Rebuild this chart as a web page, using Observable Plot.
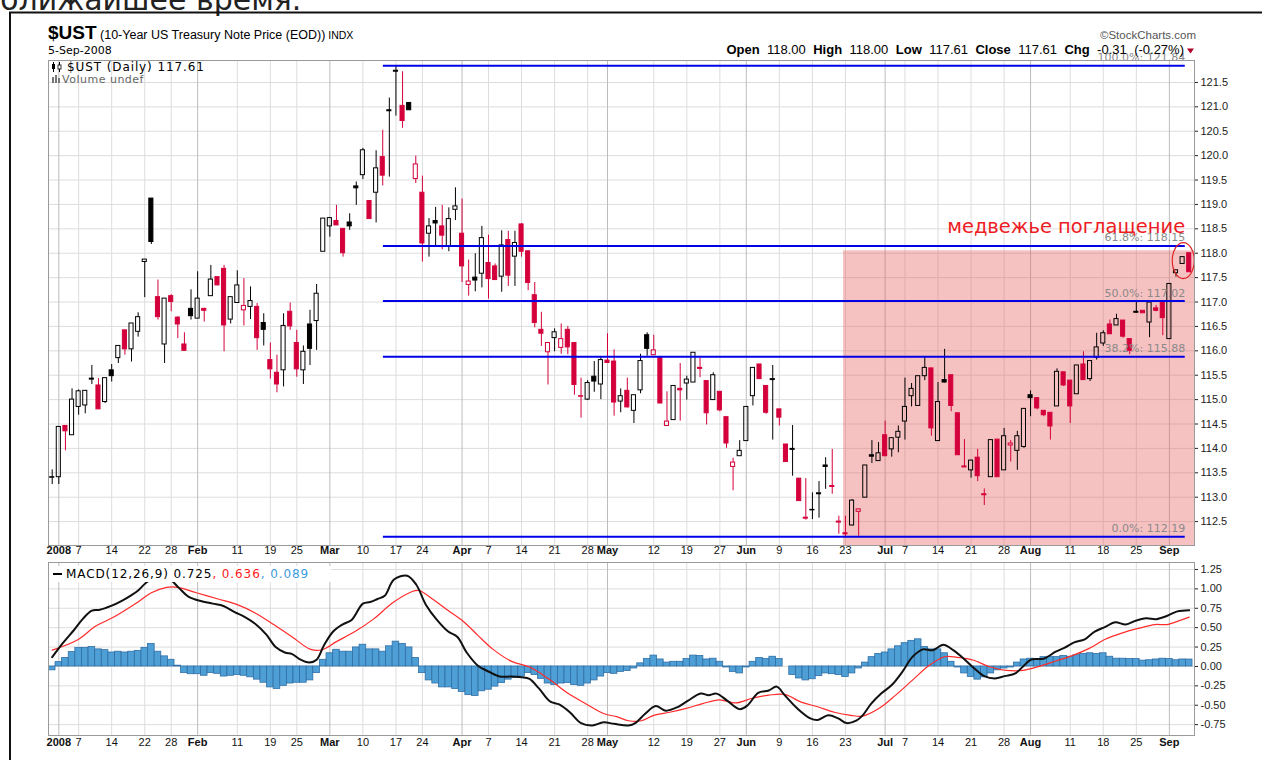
<!DOCTYPE html>
<html><head><meta charset="utf-8">
<script src="https://cdn.jsdelivr.net/npm/d3@7"></script>
<script src="https://cdn.jsdelivr.net/npm/@observablehq/plot@0.6"></script>
<style>
html,body{margin:0;padding:0;background:#fff}
#wrap{position:relative;width:1262px;height:760px;overflow:hidden;background:#fff}
#wrap > *{position:absolute;left:0}
#main{top:0}
#macd{top:560px}
#over{top:0;pointer-events:none}
</style></head><body>
<div id="wrap"><div id="main"></div><div id="macd"></div><svg id="over" width="1262" height="760"></svg></div>
<script>
// ---------- DATA (index 0 = 31-Dec-2007 ... 172 = 5-Sep-2008) ----------
const open = [113.41,113.41,114.46,114.27,114.85,114.88,115.43,115.29,114.95,115.60,
115.85,116.42,116.03,116.39,117.82,119.12,117.10,116.13,117.12,116.68,
116.13,116.86,116.66,116.86,117.12,117.51,117.68,116.64,116.98,116.83,
116.90,116.90,116.57,115.81,115.55,115.60,116.80,116.16,115.60,116.54,
116.61,118.03,118.55,118.66,118.50,118.63,119.37,119.60,119.07,119.24,
119.97,120.93,121.74,121.02,121.08,119.52,119.24,118.40,118.66,118.55,
118.14,118.89,118.40,117.35,117.50,117.58,117.80,117.73,117.52,118.27,
117.93,118.59,118.04,117.14,116.43,115.97,116.26,116.06,116.43,116.16,
115.07,115.00,115.47,115.31,115.80,115.78,114.96,115.18,114.77,115.19,
116.32,115.91,115.85,114.46,114.58,115.22,115.33,115.35,115.65,115.38,
114.99,115.16,114.64,113.62,113.84,114.15,115.07,115.72,115.28,115.42,
114.80,114.08,113.99,113.38,112.58,112.74,113.08,113.65,113.23,112.50,
112.26,112.42,112.70,112.99,113.86,113.74,114.27,113.98,114.22,114.55,
115.07,114.87,115.48,115.64,114.15,115.40,115.50,114.72,113.63,113.55,
113.81,113.06,113.41,114.18,113.55,114.06,113.95,114.03,115.09,115.03,
114.77,114.73,114.86,115.56,115.39,115.11,115.72,115.42,115.86,116.15,
116.54,116.52,116.62,116.24,116.80,116.82,116.58,116.87,117.00,116.24,
117.59,117.78,118.00];
const high = [113.56,114.44,114.46,115.22,115.20,115.17,115.70,115.43,115.44,115.72,
116.10,116.42,116.56,116.78,117.87,119.12,117.45,117.07,117.15,116.70,
116.37,117.25,117.62,116.87,117.75,117.51,117.75,117.10,117.64,117.48,
117.31,116.97,116.76,116.16,115.91,116.76,116.98,116.42,116.10,116.83,
117.36,118.71,118.73,118.98,118.50,118.81,119.46,120.15,119.07,120.10,
120.52,121.18,121.84,121.72,121.08,119.99,119.58,118.71,118.94,118.98,
118.93,119.34,119.11,117.86,117.99,118.55,118.37,117.78,118.46,118.45,
118.45,118.61,118.04,117.40,116.79,116.17,116.45,116.55,116.50,116.17,
115.44,115.39,115.78,115.87,116.35,116.02,115.22,115.44,115.09,115.93,
116.37,116.32,115.86,115.16,115.28,115.74,115.48,115.96,115.85,115.38,
115.55,115.16,114.64,113.80,114.16,114.85,115.65,115.72,115.28,115.70,
114.80,114.08,114.47,113.38,113.38,113.09,113.32,113.81,113.98,112.61,
112.61,112.95,112.76,113.65,114.16,114.12,114.56,114.21,114.46,115.44,
115.33,115.48,115.86,115.64,115.35,116.03,115.50,114.72,114.18,113.76,
113.98,113.17,114.17,114.18,114.41,114.16,114.35,114.81,115.18,115.03,
114.77,114.73,115.63,115.56,115.39,115.70,115.98,115.79,116.36,116.41,
116.63,116.75,116.62,116.24,117.01,116.82,116.99,116.93,117.00,117.37,
117.65,117.93,118.00];
const low = [113.26,113.26,113.95,114.27,114.68,114.71,115.31,114.80,114.92,115.36,
115.74,115.91,115.77,116.28,117.09,118.18,116.63,115.74,116.80,116.25,
116.00,116.63,116.66,116.59,117.12,117.34,115.98,116.55,116.98,116.51,
116.64,116.01,116.10,115.42,115.14,115.26,116.42,115.46,115.31,115.70,
116.01,118.03,118.33,118.57,117.92,118.47,118.98,119.51,118.70,118.62,
119.38,119.56,120.81,120.56,120.93,119.43,117.82,117.92,118.12,118.07,
118.03,118.67,117.40,117.12,117.21,117.29,117.06,117.45,117.20,117.32,
117.32,117.92,117.23,116.47,116.09,115.30,115.98,115.93,115.92,115.09,
114.62,114.98,115.15,115.00,115.75,114.66,114.73,114.83,114.51,115.12,
115.89,115.91,114.92,114.46,114.58,114.56,114.99,115.35,115.45,114.48,
114.99,114.75,114.00,113.13,113.84,114.15,114.87,115.42,114.70,114.17,
114.46,113.72,113.43,112.92,112.53,112.54,112.57,113.16,113.06,112.24,
112.19,112.41,112.20,112.99,113.69,113.74,113.84,113.82,113.91,114.17,
114.85,114.87,115.39,114.25,114.15,115.34,114.75,113.86,113.61,113.39,
113.32,112.83,113.41,113.41,113.55,113.72,113.55,114.00,114.65,114.79,
114.65,114.17,114.86,115.27,114.51,115.11,115.40,115.37,115.81,116.09,
116.34,116.52,116.26,115.92,116.77,116.77,116.27,116.80,116.31,116.24,
117.51,117.78,117.61];
const close = [113.40,114.44,114.35,115.00,115.17,115.18,115.41,114.80,115.44,115.48,
116.10,116.03,116.56,116.69,117.87,118.23,116.69,117.07,117.00,116.54,
116.00,116.71,117.07,116.82,117.46,117.34,116.52,117.10,117.34,116.92,
117.02,116.26,116.43,115.62,115.31,116.51,116.50,115.62,115.98,116.04,
117.17,118.71,118.72,118.57,118.00,118.55,119.33,120.11,118.70,119.74,
119.59,120.91,121.72,120.71,120.93,119.82,118.20,118.55,118.61,118.36,
118.70,118.96,117.73,117.42,117.44,118.31,117.47,117.45,118.16,117.54,
118.21,118.03,117.39,116.57,116.35,116.16,116.38,116.24,116.07,115.30,
115.06,115.34,115.37,115.81,115.75,114.94,115.07,114.84,115.09,115.79,
116.04,116.01,114.92,114.55,115.28,115.19,115.41,115.96,115.63,114.72,
115.50,114.78,114.10,113.71,113.95,114.85,115.65,115.42,114.73,115.40,
114.63,113.72,113.97,112.92,112.56,112.73,113.06,113.62,113.21,112.48,
112.24,112.93,112.75,113.65,113.83,113.90,113.84,114.21,114.34,114.85,
115.22,115.48,115.65,114.41,114.95,115.35,114.87,113.86,113.61,113.75,
113.43,113.04,114.17,113.41,114.25,114.10,114.25,114.81,115.03,114.82,
114.68,114.45,115.57,115.29,114.86,115.70,115.40,115.79,116.07,116.36,
116.34,116.65,116.29,116.00,116.78,116.77,116.99,116.82,116.67,117.37,
117.65,117.92,117.61];

// MACD histogram, one bar per day
const hist = [-0.05,0.056,0.11,0.185,0.24,0.24,0.25,0.22,0.21,0.18,
0.19,0.18,0.19,0.20,0.24,0.29,0.19,0.13,0.086,0.01,
-0.086,-0.10,-0.10,-0.12,-0.086,-0.095,-0.13,-0.12,-0.11,-0.12,
-0.14,-0.17,-0.21,-0.27,-0.29,-0.25,-0.22,-0.21,-0.21,-0.18,
-0.086,0.086,0.17,0.215,0.19,0.19,0.245,0.28,0.22,0.22,
0.19,0.26,0.32,0.29,0.245,0.11,-0.086,-0.18,-0.22,-0.27,
-0.27,-0.29,-0.33,-0.37,-0.38,-0.32,-0.30,-0.26,-0.215,-0.17,
-0.15,-0.13,-0.086,-0.11,-0.16,-0.22,-0.24,-0.22,-0.215,-0.24,
-0.25,-0.22,-0.18,-0.13,-0.086,-0.095,
-0.07,-0.06,-0.026,0.04,0.095,0.14,0.09,0.05,0.06,0.06,
0.095,0.14,0.135,0.09,0.10,0.06,-0.013,-0.07,-0.09,-0.013,
0.06,0.11,0.095,0.125,0.095,0.0,-0.11,-0.155,-0.18,-0.165,
-0.125,-0.09,-0.10,-0.11,-0.135,-0.09,-0.026,0.05,0.12,0.16,
0.18,0.22,0.26,0.30,0.33,0.35,0.25,0.22,0.22,0.17,
0.06,-0.013,-0.09,-0.135,-0.17,-0.14,-0.09,-0.05,-0.026,-0.013,
0.05,0.09,0.10,0.095,0.12,0.125,0.12,0.135,0.125,0.145,
0.16,0.17,0.16,0.17,0.125,0.10,0.10,0.095,0.095,0.075,
0.08,0.09,0.10,0.095,0.08,0.09,0.089];

// MACD line, read at points along the day index
const macdX = [0,1.6,3.3,4.7,6,7.2,8.9,10.6,12,13,14.2,15.5,16.8,17.9,19.2,20.6,22.6,24.3,25.9,27.6,29.1,30.7,32.4,33.8,35.2,36.3,37.4,38.9,40,41.1,42.5,43.9,45.3,47,48.1,49.2,50.3,51.7,53.7,55.1,56.5,58.2,59.9,61.3,62.7,64.4,66,67.7,69.4,71,72.2,73.6,75.3,76.7,78.3,80,81.7,83.4,85,87.2,88.2,89.7,91.3,92.8,94.7,96.2,98.1,99.3,100.5,102.1,104,105.2,106.8,108.4,109.6,110.8,112.7,114.6,115.8,117.4,118.9,120.2,121.7,122.6,123.9,125.4,127,128.6,130.1,131.7,133.2,134.8,136.3,137.9,139.5,141,142.6,144.1,145.7,146.9,148.1,150,151.8,153.1,154.6,156.2,157.7,159.3,160.8,162.4,163.9,165.5,167,168.6,170.2,172];
const macdY = [0.12,0.30,0.47,0.62,0.72,0.73,0.78,0.85,0.92,0.98,1.08,1.15,1.17,1.12,1.01,0.90,0.84,0.81,0.78,0.70,0.64,0.55,0.41,0.25,0.18,0.16,0.095,0.05,0.086,0.27,0.45,0.54,0.60,0.81,0.83,0.87,0.91,1.12,1.17,1.05,0.80,0.60,0.45,0.38,0.18,0.01,-0.065,-0.13,-0.13,-0.14,-0.16,-0.28,-0.45,-0.49,-0.59,-0.73,-0.76,-0.72,-0.74,-0.76,-0.73,-0.61,-0.51,-0.57,-0.52,-0.44,-0.35,-0.37,-0.35,-0.44,-0.55,-0.50,-0.34,-0.31,-0.26,-0.37,-0.54,-0.665,-0.69,-0.63,-0.67,-0.73,-0.695,-0.63,-0.48,-0.35,-0.24,-0.07,0.12,0.22,0.21,0.28,0.21,0.10,-0.026,-0.125,-0.155,-0.125,-0.09,0.004,0.09,0.10,0.19,0.24,0.31,0.35,0.45,0.51,0.57,0.54,0.59,0.62,0.61,0.65,0.71,0.725];
// Signal line
const sigX = [0,3.8,6.6,9.4,12.8,15,17.3,19,21.8,25.1,27.9,30.7,33.5,36.3,39.1,40.8,43,45.8,48.6,51.5,54.3,55.4,57.7,59.9,62.2,64.4,66.7,69.5,72.3,75.1,77.9,80.7,83.5,85.5,87.2,89.1,91,93.4,95.9,98.4,100.9,103.4,105.9,108.4,110.8,113.3,115.8,118.3,120.8,122.6,125.1,127.6,130.1,132.5,135,136.9,139.4,141.8,144.3,146.9,149.4,151.8,154.3,156.8,159.3,161.8,164.3,166.8,168.6,170.5,172];
const sigY = [0.21,0.34,0.52,0.64,0.82,0.95,1.02,1.02,0.95,0.87,0.80,0.69,0.54,0.38,0.22,0.215,0.32,0.45,0.61,0.82,0.96,0.98,0.86,0.72,0.58,0.40,0.22,0.065,-0.01,-0.16,-0.34,-0.48,-0.61,-0.65,-0.70,-0.70,-0.63,-0.59,-0.54,-0.48,-0.43,-0.47,-0.41,-0.37,-0.36,-0.46,-0.52,-0.59,-0.63,-0.64,-0.54,-0.37,-0.18,0.004,0.125,0.117,0.08,-0.004,-0.05,-0.05,0.004,0.07,0.14,0.23,0.35,0.43,0.49,0.54,0.54,0.59,0.636];

// Axis ticks (day index) and labels
const tickIdx = [1,4,9,14,18,22,28,33,37,42,47,52,56,62,66,71,76,81,84,91,96,101,105,110,115,120,126,129,134,139,144,148,154,159,164,169];
const tickLabels = ["2008","7","14","22","28","Feb","11","19","25","Mar","10","17","24","Apr","7","14","21","28","May","12","19","27","Jun","9","16","23","Jul","7","14","21","28","Aug","11","18","25","Sep"];
const monthLabels = ["2008","Feb","Mar","Apr","May","Jun","Jul","Aug","Sep"];
const priceTicks = [112.5,113,113.5,114,114.5,115,115.5,116,116.5,117,117.5,118,118.5,119,119.5,120,120.5,121,121.5];
const macdTicks = [-0.75,-0.5,-0.25,0,0.25,0.5,0.75,1,1.25];

// Fibonacci retracement levels
const fibPct = ["100.0%","61.8%","50.0%","38.2%","0.0%"];
const fibLevel = [121.84,118.15,117.02,115.88,112.19];
const fibFrom = 50.1, fibTo = 171.4;

// Highlighted zone and annotation
const zoneFrom = 119.7, zoneTo = 172.8, zoneLow = 112.01, zoneHigh = 118.05;
const noteText = "медвежье поглащение";
const noteAt = {x: 171.4, y: 118.55};
const ringAt = {x: 171.1, y: 117.85};

// ---------- BUILD ----------
const RED = "#d4003b";
const xDomain = [-0.56, 172.8];
const candles = close.map((c, i) => ({i, open: open[i], high: high[i], low: low[i], close: c}));
const colOf = d => (d.i === 0 || d.close >= close[d.i - 1]) ? "#000" : RED;
const ticks = tickIdx.map((x, j) => ({x, label: tickLabels[j], bold: monthLabels.includes(tickLabels[j])}));
const monthIdx = ticks.filter(t => t.bold).map(t => t.x);
const fibs = fibLevel.map((v, j) => ({v, label: fibPct[j] + ": " + v.toFixed(2)}));
const histData = hist.map((v, i) => ({i, v}));
const macdPts = macdX.map((x, j) => ({x, y: macdY[j]}));
const sigPts = sigX.map((x, j) => ({x, y: sigY[j]}));

const ellipse = {draw(ctx) {
  const rx = 11, ry = 18, k = 0.5523;
  ctx.moveTo(rx, 0);
  ctx.bezierCurveTo(rx, ry * k, rx * k, ry, 0, ry);
  ctx.bezierCurveTo(-rx * k, ry, -rx, ry * k, -rx, 0);
  ctx.bezierCurveTo(-rx, -ry * k, -rx * k, -ry, 0, -ry);
  ctx.bezierCurveTo(rx * k, -ry, rx, -ry * k, rx, 0);
  ctx.closePath();
}};

const FONT = "Liberation Sans, Arial, sans-serif";
const gridStroke = d => monthIdx.includes(d) ? "#bdbdbd" : "#dddddd";

const main = Plot.plot({
  width: 1262, height: 560,
  marginLeft: 48, marginRight: 68, marginTop: 60, marginBottom: 15,
  x: {domain: xDomain, axis: null},
  y: {domain: [112.01, 121.95], axis: null},
  color: {type: "identity"},
  style: {background: "transparent", fontFamily: FONT, overflow: "visible"},
  marks: [
    Plot.ruleY(priceTicks, {stroke: "#dddddd"}),
    Plot.ruleX(tickIdx, {stroke: gridStroke}),
    Plot.rect([{x1: zoneFrom, x2: zoneTo, y1: zoneLow, y2: zoneHigh}],
      {x1: "x1", x2: "x2", y1: "y1", y2: "y2", fill: "#e85c5c", fillOpacity: 0.38}),
    Plot.ruleX(candles, {x: "i", y1: "high", y2: d => Math.max(d.open, d.close), stroke: colOf, strokeWidth: 1}),
    Plot.ruleX(candles, {x: "i", y1: d => Math.min(d.open, d.close), y2: "low", stroke: colOf, strokeWidth: 1}),
    Plot.rect(candles, {
      x1: d => d.i - 0.31, x2: d => d.i + 0.31, y1: "open", y2: "close",
      fill: d => d.close < d.open ? colOf(d) : "none", stroke: colOf, strokeWidth: 1
    }),
    Plot.ruleY(fibs, {y: "v", x1: () => fibFrom, x2: () => fibTo, stroke: "#0000e6", strokeWidth: 2}),
    Plot.text(fibs, {x: () => fibTo, y: "v", text: "label", textAnchor: "end", dy: -8,
      fill: "#8a8a8a", fontSize: 11, fontFamily: "DejaVu Sans"}),
    Plot.text([noteAt], {x: "x", y: "y", text: () => noteText, textAnchor: "end",
      fill: "#ee1c24", fontSize: 19.5, fontFamily: "DejaVu Sans"}),
    Plot.dot([ringAt], {x: "x", y: "y", symbol: ellipse, fill: "none", stroke: "#e02424", strokeWidth: 1.2}),
    Plot.frame({stroke: "#9a9a9a"}),
    Plot.axisY({ticks: priceTicks, anchor: "right", tickFormat: d => d.toFixed(1), tickSize: 3, tickPadding: 3,
      fontSize: 11, color: "#222"}),
    Plot.text(ticks.filter(t => t.bold), {x: "x", text: "label", frameAnchor: "bottom", lineAnchor: "top", dy: 1,
      fontWeight: "bold", fontSize: 11, fill: "#111"}),
    Plot.text(ticks.filter(t => !t.bold), {x: "x", text: "label", frameAnchor: "bottom", lineAnchor: "top", dy: 1,
      fontSize: 11, fill: "#111"})
  ]
});
document.getElementById("main").append(main);

const macd = Plot.plot({
  width: 1262, height: 200,
  marginLeft: 48, marginRight: 68, marginTop: 2, marginBottom: 25,
  x: {domain: xDomain, axis: null},
  y: {domain: [-0.89, 1.34], axis: null},
  color: {type: "identity"},
  style: {background: "transparent", fontFamily: FONT, overflow: "visible"},
  marks: [
    Plot.ruleY(macdTicks, {stroke: "#dddddd"}),
    Plot.ruleX(tickIdx, {stroke: gridStroke}),
    Plot.rect(histData, {x1: d => d.i - 0.5, x2: d => d.i + 0.5, y1: () => 0, y2: "v",
      fill: "#4e9fd5", stroke: "#2f6ea6", strokeWidth: 0.8}),
    Plot.line(sigPts, {x: "x", y: "y", stroke: "#ff2b2b", strokeWidth: 1.2, curve: "catmull-rom"}),
    Plot.line(macdPts, {x: "x", y: "y", stroke: "#111", strokeWidth: 2, curve: "catmull-rom"}),
    Plot.frame({stroke: "#9a9a9a"}),
    Plot.axisY({ticks: macdTicks, anchor: "right", tickFormat: d => d.toFixed(2), tickSize: 3, tickPadding: 3,
      fontSize: 11, color: "#222"}),
    Plot.text(ticks.filter(t => t.bold), {x: "x", text: "label", frameAnchor: "bottom", lineAnchor: "top", dy: 3,
      fontWeight: "bold", fontSize: 11, fill: "#111"}),
    Plot.text(ticks.filter(t => !t.bold), {x: "x", text: "label", frameAnchor: "bottom", lineAnchor: "top", dy: 3,
      fontSize: 11, fill: "#111"})
  ]
});
document.getElementById("macd").append(macd);

// ---------- overlay: page text, headers, legends ----------
document.getElementById("over").innerHTML = `
<text x="0" y="9.5" font-family="DejaVu Sans" font-size="30" fill="#222">ближайшее время.</text>
<path d="M10,760V12.5H1262" fill="none" stroke="#111" stroke-width="2"/>
<text x="48" y="39" font-family="${FONT}" fill="#000"><tspan font-weight="bold" font-size="19">$UST</tspan><tspan font-size="12.5"> (10-Year US Treasury Note Price (EOD))</tspan><tspan font-size="10.5"> INDX</tspan></text>
<text x="48" y="54" font-family="DejaVu Sans" font-size="11" fill="#000">5-Sep-2008</text>
<text x="1196" y="39" text-anchor="end" font-family="${FONT}" font-size="11.5" fill="#555">©StockCharts.com</text>
<text x="1184" y="54" text-anchor="end" font-family="${FONT}" font-size="13" word-spacing="3.8" fill="#000"><tspan font-weight="bold">Open</tspan> 118.00 <tspan font-weight="bold">High</tspan> 118.00 <tspan font-weight="bold">Low</tspan> 117.61 <tspan font-weight="bold">Close</tspan> 117.61 <tspan font-weight="bold">Chg</tspan> -0.31 (-0.27%)</text>
<path d="M1187,48.5h7l-3.5,5z" fill="#b0002a"/>
<g stroke="#000" stroke-width="1"><line x1="53.5" y1="62" x2="53.5" y2="72"/><line x1="59.5" y1="62" x2="59.5" y2="72"/></g>
<rect x="52" y="64" width="3" height="5" fill="#000"/><rect x="58" y="65" width="3" height="4" fill="#fff" stroke="#000" stroke-width="0.8"/>
<text x="67" y="71" font-family="DejaVu Sans" font-size="12" letter-spacing="0.9" fill="#000">$UST (Daily) 117.61</text>
<g fill="#777"><rect x="52" y="77" width="2" height="6"/><rect x="55" y="75" width="2" height="8"/><rect x="58" y="78" width="2" height="5"/></g>
<text x="62" y="83" font-family="DejaVu Sans" font-size="11" letter-spacing="0.5" fill="#666">Volume undef</text>
<rect x="49" y="566" width="282" height="16" fill="#fff"/>
<line x1="53" y1="574" x2="62" y2="574" stroke="#000" stroke-width="2"/>
<text x="66" y="578" font-family="DejaVu Sans" font-size="12" letter-spacing="0.9" fill="#000">MACD(12,26,9) 0.725<tspan fill="#ff2020">, 0.636</tspan><tspan fill="#3d9be0">, 0.089</tspan></text>
`;
</script></body></html>
